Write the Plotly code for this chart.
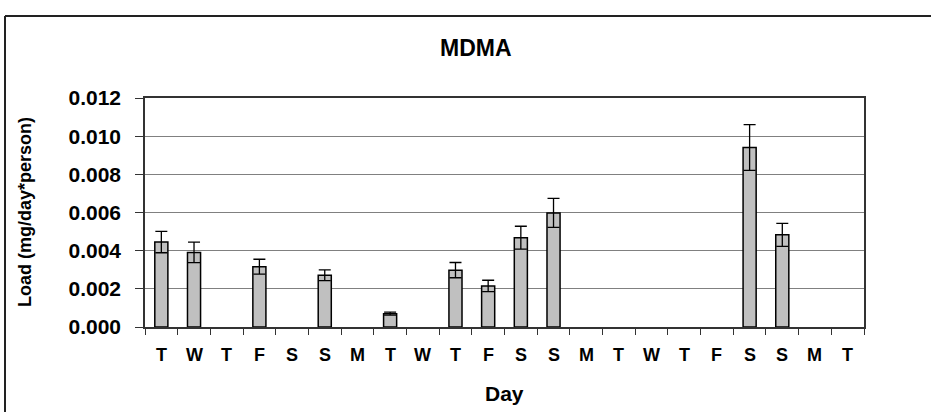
import plotly.graph_objects as go

days = ["T", "W", "T", "F", "S", "S", "M", "T", "W", "T", "F",
        "S", "S", "M", "T", "W", "T", "F", "S", "S", "M", "T"]
load = [0.00445, 0.00391, None, 0.00316, None, 0.00271, None, 0.00070, None, 0.00298, 0.00215,
        0.00468, 0.00598, None, None, None, None, None, 0.00941, 0.00483, None, None]
err = [0.00056, 0.00054, None, 0.00039, None, 0.00028, None, 0.00008, None, 0.00040, 0.00030,
       0.00060, 0.00076, None, None, None, None, None, 0.00120, 0.00060, None, None]
y_ticks = [0.000, 0.002, 0.004, 0.006, 0.008, 0.010, 0.012]
y_tick_text = ["0.000", "0.002", "0.004", "0.006", "0.008", "0.010", "0.012"]

FONT = "Liberation Sans, Arial, sans-serif"
# unique category keys (day letters repeat), shown with the day letters
x_cat = [f"d{i + 1}" for i in range(len(days))]

fig = go.Figure()
fig.add_trace(go.Bar(
    x=x_cat, y=load, width=0.4,
    marker=dict(color="#C0C0C0", line=dict(color="#000000", width=1.5)),
    error_y=dict(type="data", array=err, visible=True, color="#000000", thickness=1.3, width=6),
    showlegend=False,
))

W, H = 931, 412
L, R, T, B = 145, 67, 98, 85
pw, ph = W - L - R, H - T - B

def px_x(x):
    return (x - L) / pw

def px_y(y):
    return (H - B - y) / ph

# day letters under each category (placed on the category scale)
day_labels = [
    dict(text=d, xref="x", yref="paper", x=c, y=px_y(355),
         xanchor="center", yanchor="middle", showarrow=False,
         font=dict(family=FONT, size=18, weight="bold"))
    for c, d in zip(x_cat, days)
]

fig.update_layout(
    width=W, height=H,
    margin=dict(l=L, r=R, t=T, b=B, pad=0),
    paper_bgcolor="white", plot_bgcolor="white",
    font=dict(family=FONT, color="black"),
    bargap=0.6,
    xaxis=dict(
        type="category",
        categoryorder="array", categoryarray=x_cat,
        tickmode="array", tickvals=x_cat,
        tickson="boundaries",
        range=[-0.5, len(days) - 0.5],
        showgrid=False, zeroline=False,
        showline=True, linecolor="#333333", linewidth=1.5, mirror=True,
        ticks="outside", ticklen=6, tickwidth=1.3, tickcolor="#333333",
        showticklabels=False,
    ),
    yaxis=dict(
        range=[0, 0.012],
        tickmode="array", tickvals=y_ticks, ticktext=y_tick_text,
        showgrid=True, gridcolor="#808080", gridwidth=1,
        zeroline=False,
        showline=True, linecolor="#333333", linewidth=1.5, mirror=True,
        ticks="outside", ticklen=8, tickwidth=1, tickcolor="#333333",
        tickfont=dict(family=FONT, size=21, weight="bold"),
        ticklabelstandoff=10,
    ),
    shapes=[
        dict(type="line", xref="paper", yref="paper",
             x0=px_x(5), x1=px_x(5), y0=px_y(16), y1=px_y(420),
             line=dict(color="#222222", width=2)),
        dict(type="line", xref="paper", yref="paper",
             x0=px_x(5), x1=px_x(940), y0=px_y(16), y1=px_y(16),
             line=dict(color="#222222", width=2)),
    ],
    annotations=[
        dict(text="MDMA", xref="paper", yref="paper", x=px_x(476), y=px_y(48),
             xanchor="center", yanchor="middle", showarrow=False,
             font=dict(family=FONT, size=23, weight="bold")),
        dict(text="Day", xref="paper", yref="paper", x=px_x(504), y=px_y(393),
             xanchor="center", yanchor="middle", showarrow=False,
             font=dict(family=FONT, size=21, weight="bold")),
        dict(text="Load (mg/day*person)", xref="paper", yref="paper",
             x=px_x(25), y=px_y(212), textangle=-90,
             xanchor="center", yanchor="middle", showarrow=False,
             font=dict(family=FONT, size=18, weight="bold")),
    ] + day_labels,
)

fig.write_html("out.html")
